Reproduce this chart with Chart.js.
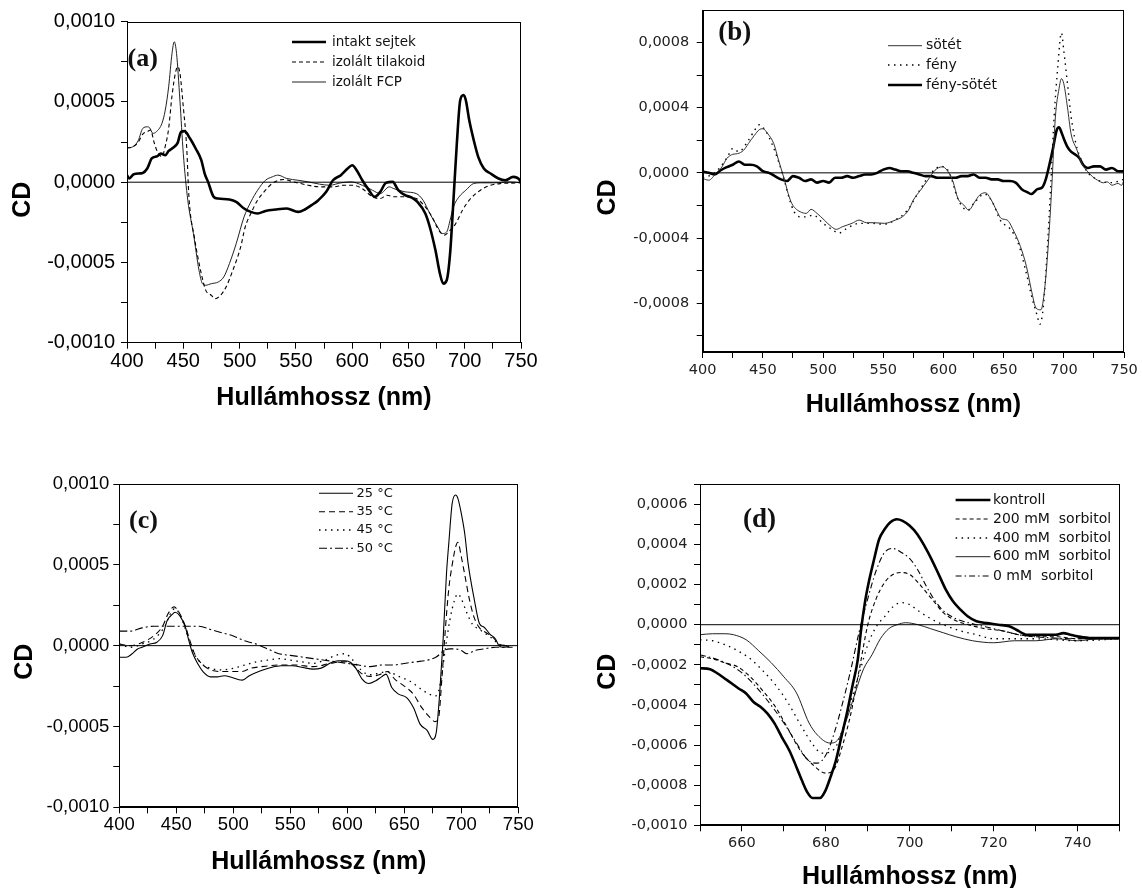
<!DOCTYPE html>
<html><head><meta charset="utf-8">
<script src="https://cdn.jsdelivr.net/npm/chart.js@4.4.1/dist/chart.umd.min.js"></script>
<style>
html,body{margin:0;padding:0;background:#fff;overflow:hidden;width:1142px;height:888px;position:relative}
canvas{position:absolute}
</style></head><body>
<canvas id="ca" width="560" height="425" style="left:0px;top:0px;width:560px;height:425px"></canvas>
<canvas id="cb" width="562" height="425" style="left:580px;top:0px;width:562px;height:425px"></canvas>
<canvas id="cc" width="560" height="448" style="left:0px;top:440px;width:560px;height:448px"></canvas>
<canvas id="cd" width="562" height="448" style="left:580px;top:440px;width:562px;height:448px"></canvas>
<script>
// ---------- axis ticks ----------
const wideXTicks = [400,425,450,475,500,525,550,575,600,625,650,675,700,725,750];
const wideXLabels = [400,450,500,550,600,650,700,750];
const aYTicks = [-0.001,-0.00075,-0.0005,-0.00025,0,0.00025,0.0005,0.00075,0.001];
const aYLabels = [-0.001,-0.0005,0,0.0005,0.001];
const bYTicks = [-0.001,-0.0008,-0.0006,-0.0004,-0.0002,0,0.0002,0.0004,0.0006,0.0008];
const bYLabels = [-0.0008,-0.0004,0,0.0004,0.0008];
const dXTicks = [650,660,670,680,690,700,710,720,730,740,750];
const dXLabels = [660,680,700,720,740];
const dYTicks = [-0.001,-0.0009,-0.0008,-0.0007,-0.0006,-0.0005,-0.0004,-0.0003,-0.0002,-0.0001,0,0.0001,0.0002,0.0003,0.0004,0.0005,0.0006,0.0007];
const dYLabels = [-0.001,-0.0008,-0.0006,-0.0004,-0.0002,0,0.0002,0.0004,0.0006];

// ---------- panel (a) ----------
const aSeries = ['intakt sejtek','izolált tilakoid','izolált FCP'];
const aIntaktX = [400,402,406,414,418,422,427,430,434,437,440,445,448,451,456,461,466,469,472,477,481,491,497,504,510,516,523,532,542,552,558,564,570,577,583,590,596,600,604,609,614,620,625,630,636,641,647,653,658,665,669,674,678,681,684,687,690,693,696,699,701,704,708,712,717,723,730,736,743,749,750];
const aIntaktY = [0.000044,0.000023,0.00005,0.000058,0.000085,0.000148,0.000162,0.000179,0.000168,0.000195,0.00021,0.000245,0.000314,0.000318,0.000272,0.00021,0.000137,0.000054,0.000002,-0.000091,-0.000102,-0.000108,-0.000123,-0.000164,-0.000185,-0.000195,-0.000179,-0.00017,-0.000164,-0.000185,-0.00017,-0.000143,-0.000112,-0.00006,0.000012,0.000044,0.000085,0.000106,0.000075,0.000012,-0.00004,-0.000091,-0.00006,-0.000004,0.000002,-0.00005,-0.000081,-0.000096,-0.000123,-0.000195,-0.000279,-0.000424,-0.00057,-0.000632,-0.000611,-0.000445,-0.000112,0.000241,0.000511,0.000543,0.000511,0.000387,0.000262,0.000158,0.000085,0.000054,0.000023,0.000012,0.000033,0.000012,-0.000008];
const aTilX = [400,405,410,414,418,421,424,427,431,434,437,440,443,445,447,450,453,455,460,466,470,475,478,483,488,494,501,505,510,516,523,529,539,548,561,571,583,593,601,609,618,625,631,637,647,657,665,671,677,682,687,692,698,704,714,723,733,746,750];
const aTilY = [0.000214,0.00022,0.00025,0.0003,0.000315,0.000325,0.00025,0.00019,0.00016,0.000225,0.000335,0.00054,0.00068,0.00072,0.00068,0.00047,0.00022,-0.00009,-0.00035,-0.00057,-0.000674,-0.000705,-0.000726,-0.000705,-0.000653,-0.000549,-0.000403,-0.000279,-0.000195,-0.000112,-0.00005,-0.000008,0.000017,0.000002,-0.000019,-0.000029,-0.000029,-0.000019,-0.000019,-0.00004,-0.000091,-0.000102,-0.000081,-0.000091,-0.000091,-0.000102,-0.000154,-0.000216,-0.0003,-0.00033,-0.0003,-0.000258,-0.000175,-0.000112,-0.00005,-0.000019,-0.000008,-0.000004,0];
const aFcpX = [400,405,410,414,418,420,423,426,431,434,437,440,442,444,447,450,454,459,464,467,470,475,481,486,491,497,504,510,516,523,529,534,542,552,561,571,580,590,599,609,618,625,633,637,647,657,663,669,676,680,684,687,690,695,701,708,714,727,739,750];
const aFcpY = [0.000214,0.00022,0.00026,0.000335,0.000345,0.00034,0.000304,0.000314,0.000366,0.000449,0.000594,0.000803,0.000875,0.000803,0.000511,0.000179,-0.000112,-0.00032,-0.00055,-0.000632,-0.000642,-0.000632,-0.000622,-0.00059,-0.000507,-0.000383,-0.000216,-0.000123,-0.00005,0.000012,0.000033,0.000044,0.000023,0.000012,0.000002,-0.000012,-0.000019,-0.000004,0.000002,-0.000019,-0.00005,-0.000071,-0.000029,-0.00004,-0.00006,-0.000071,-0.000112,-0.000195,-0.000279,-0.00032,-0.00031,-0.000237,-0.000154,-0.000091,-0.00005,-0.000008,-0.000004,-0.000004,0.000002,-0.000004];

// ---------- panel (b) ----------
const bSeries = ['sötét','fény','fény-sötét'];
const bSotetX = [400,405,411,416,420,425,429,434,438,443,447,450,454,459,463,468,471,474,477,481,486,490,495,501,507,511,516,524,530,536,542,551,560,566,571,575,581,587,593,599,603,608,612,617,621,626,630,635,639,644,648,653,658,664,669,673,677,681,684,687,690,693,696,698,700,703,706,711,715,720,724,728,733,736,740,745,748,750];
const bSotetY = [-0.000035,-0.000045,-0.000004,0.000037,0.000088,0.000114,0.000118,0.000139,0.00018,0.000231,0.000265,0.000271,0.000241,0.00018,0.000078,-0.000045,-0.000127,-0.000188,-0.000218,-0.000239,-0.000249,-0.000224,-0.000249,-0.00029,-0.000331,-0.000347,-0.000331,-0.00031,-0.00029,-0.000306,-0.000306,-0.00031,-0.00029,-0.000269,-0.000229,-0.000167,-0.000106,-0.000045,0.000016,0.000037,0.000016,-0.000055,-0.000157,-0.000198,-0.000229,-0.000178,-0.000137,-0.000122,-0.000157,-0.000229,-0.00028,-0.00029,-0.000351,-0.000453,-0.000576,-0.000718,-0.000831,-0.000841,-0.000718,-0.000453,-0.000086,0.000343,0.000516,0.000578,0.000547,0.000404,0.000241,0.000139,0.000057,0.000006,-0.000024,-0.000045,-0.000061,-0.000055,-0.000076,-0.000065,-0.000076,-0.000045];
const bFenyX = [400,410,420,425,430,438,443,447,452,458,463,468,472,476,481,485,492,500,508,513,520,530,540,550,560,570,580,590,598,605,612,620,626,634,640,648,655,662,668,673,678,680,683,686,689,692,695,698,700,703,706,710,715,720,725,730,740,750];
const bFenyY = [-0.00003,0.0,0.00009,0.00015,0.00013,0.0002,0.00026,0.000295,0.00026,0.00017,0.00007,-0.00005,-0.00016,-0.00024,-0.00027,-0.00027,-0.00026,-0.00031,-0.00035,-0.00037,-0.00034,-0.00031,-0.00031,-0.000315,-0.00029,-0.00023,-0.00011,0.0,0.00004,0.0,-0.00016,-0.00023,-0.00018,-0.00013,-0.00017,-0.0003,-0.00034,-0.00043,-0.00059,-0.00075,-0.00088,-0.00093,-0.00082,-0.0005,-0.0001,0.00035,0.00065,0.00086,0.00075,0.00055,0.00035,0.00018,0.00007,0.0,-0.00003,-0.00005,-0.00006,-0.00004];
const bDiffX = [400,405,410,415,420,425,430,435,440,445,450,455,460,465,470,475,480,485,490,495,500,505,510,515,520,525,530,535,540,545,550,555,560,565,570,575,580,585,590,595,600,605,610,615,620,625,630,635,640,645,650,655,660,665,670,673,678,682,685,688,691,694,696,698,700,703,706,710,713,716,720,725,730,735,740,745,750];
const bDiffY = [0.000008,0.0,-0.00001,0.000016,0.000035,0.00005,0.00007,0.00005,0.00005,0.00004,0.00001,0.0,-0.00002,-0.00004,-0.00005,-0.00002,-0.00003,-0.00005,-0.00004,-0.00006,-0.00005,-0.00006,-0.00003,-0.00003,-0.00002,-0.00003,-0.00002,-0.00001,-0.00001,0.0,0.00002,0.00003,0.00002,0.00001,0.00001,0.0,-0.00001,-0.00002,-0.00002,-0.00003,-0.00003,-0.00003,-0.00003,-0.00002,-0.00002,-0.00001,-0.00003,-0.00003,-0.00004,-0.00004,-0.00005,-0.00005,-0.00006,-0.0001,-0.00012,-0.00013,-0.0001,-0.00009,-0.00004,0.00005,0.00015,0.00026,0.00028,0.00025,0.00021,0.00016,0.00013,0.00011,0.00009,0.00005,0.00003,0.00004,0.00004,0.00002,0.00003,0.00001,0.00001];

// ---------- panel (c) ----------
const cSeries = ['25 °C','35 °C','45 °C','50 °C'];
const c25X = [400,406,411,416,420,427,433,438,442,447,449,453,458,461,464,469,474,480,486,492,499,505,508,514,524,533,542,552,561,570,577,586,592,598,603,608,613,619,625,630,634,639,645,652,658,664,670,675,678,681,684,687,689,692,695,697,700,703,706,711,716,720,725,730,733,736,742];
const c25Y = [-0.000072,-0.000072,-0.000052,-0.000021,-0.00001,0.00001,0.000021,0.000062,0.000155,0.000197,0.000207,0.000186,0.000114,0.000031,-0.000041,-0.000114,-0.000166,-0.000193,-0.000193,-0.000186,-0.000197,-0.000211,-0.000213,-0.000186,-0.000155,-0.000135,-0.000124,-0.000124,-0.000135,-0.000145,-0.000139,-0.000104,-0.000093,-0.000093,-0.000104,-0.000145,-0.000207,-0.000234,-0.000217,-0.000193,-0.000176,-0.000259,-0.0003,-0.000321,-0.000383,-0.000487,-0.000524,-0.00058,-0.000538,-0.0003,0.000031,0.000445,0.000631,0.00088,0.000932,0.000911,0.000818,0.000694,0.000507,0.0003,0.000135,0.000114,0.000072,0.000041,0.0,-0.00001,-0.000006];
const c35X = [400,410,420,430,438,443,448,452,458,462,466,472,480,490,500,508,515,525,540,555,570,585,595,600,605,612,620,628,635,642,650,658,665,672,677,680,683,686,689,692,695,697,700,703,707,711,716,722,728,733,740];
const c35Y = [0.00001,0.0,0.00002,0.00006,0.00012,0.0002,0.00024,0.00021,0.00012,0.00003,-0.00005,-0.00011,-0.00015,-0.00016,-0.00016,-0.00016,-0.00014,-0.00013,-0.00012,-0.00012,-0.00013,-0.00011,-0.0001,-0.0001,-0.00012,-0.00017,-0.00019,-0.00018,-0.00016,-0.00021,-0.00025,-0.0003,-0.00038,-0.00044,-0.00047,-0.00045,-0.0002,0.0001,0.00035,0.0005,0.00061,0.00064,0.00055,0.00044,0.00029,0.00018,0.00011,0.00008,0.00005,0.00001,0.0];
const c45X = [400,410,420,430,440,445,449,455,460,465,472,480,490,500,510,520,530,540,550,560,570,580,590,598,605,612,620,628,635,645,655,665,672,678,682,686,690,694,697,700,705,710,716,722,728,735,742];
const c45Y = [0.00001,-0.00001,0.00001,0.00004,0.00012,0.0002,0.00023,0.00016,0.00006,-0.00004,-0.00011,-0.00014,-0.00015,-0.00014,-0.00012,-0.0001,-0.00009,-0.00008,-0.00009,-0.0001,-0.00011,-0.00009,-0.00006,-0.00005,-0.00009,-0.00015,-0.00018,-0.00017,-0.00016,-0.00019,-0.00022,-0.00027,-0.0003,-0.00031,-0.00022,-0.00002,0.00016,0.00028,0.00032,0.00029,0.0002,0.00013,0.0001,0.00007,0.00004,0.0,0.0];
const c50X = [400,410,420,430,440,450,460,470,480,490,500,510,520,530,540,550,560,570,580,590,600,610,620,630,640,650,660,670,678,685,690,695,700,705,712,720,730,740,745];
const c50Y = [0.00009,0.00009,0.00011,0.00012,0.00012,0.00012,0.00012,0.00012,0.0001,0.00008,0.00006,0.00003,0.00001,-0.00002,-0.00005,-0.00006,-0.00007,-0.00008,-0.00009,-0.0001,-0.00011,-0.00012,-0.00013,-0.00012,-0.00012,-0.00011,-0.0001,-0.00009,-0.00007,-0.00003,-0.00002,-0.00002,-0.00003,-0.00005,-0.00003,-0.00002,-0.00001,-0.00001,-0.00001];

// ---------- panel (d) ----------
const dSeries = ['kontroll','200 mM  sorbitol','400 mM  sorbitol','600 mM  sorbitol','0 mM  sorbitol'];
const dKonX = [650,652.4,654.1,655.8,657.5,659.2,661,662.7,664.4,666.1,667.8,669.5,671.3,673,674.3,675.6,676.8,678.6,679.9,681.1,682.4,683.7,685,686.3,687.6,688.4,689.3,690.2,691.5,692.7,694,695.3,696.9,698.3,700,701.8,703.5,705.2,706.9,708.6,710.3,712.1,713.8,715.9,718.5,721.1,723.7,725.4,728,731.4,734.8,736.6,738.3,740,743.4,746.9,750];
const dKonY = [-0.000217,-0.000222,-0.000242,-0.000267,-0.000292,-0.000318,-0.000343,-0.000384,-0.000409,-0.000443,-0.000493,-0.00056,-0.000627,-0.00071,-0.000777,-0.000836,-0.000864,-0.000864,-0.000827,-0.00076,-0.000677,-0.00056,-0.000443,-0.000309,-0.000175,-0.000025,0.000109,0.000209,0.000326,0.000426,0.000476,0.00051,0.000526,0.000518,0.000493,0.000451,0.000393,0.000326,0.000251,0.000175,0.000117,0.000075,0.000042,0.000017,0.000008,0,-0.000008,-0.000025,-0.00005,-0.00005,-0.00005,-0.000042,-0.00005,-0.000058,-0.000067,-0.000067,-0.000067];
const d200X = [650,653,656,659,662,665,668,671,674,677,680,682,684,686,688,690,692,694,696,698,700,702,704,706,708,711,714,718,722,726,730,735,740,745,750];
const d200Y = [-0.00016,-0.00017,-0.00019,-0.00021,-0.00026,-0.00033,-0.00041,-0.00052,-0.00063,-0.0007,-0.00074,-0.00072,-0.0006,-0.00044,-0.00022,0.0,0.00013,0.00021,0.00025,0.00026,0.00025,0.00021,0.00016,0.00011,0.00006,0.00002,0.0,-0.00002,-0.00003,-0.00005,-0.00006,-0.00006,-0.00007,-0.00007,-0.00007];
const d400X = [650,653,656,659,662,665,668,671,674,677,679,682,684,686,688,690,692,694,696,698,700,702,705,708,712,716,720,725,730,740,750];
const d400Y = [-0.000075,-0.00008,-0.0001,-0.00013,-0.00017,-0.00023,-0.0003,-0.00039,-0.0005,-0.0006,-0.00064,-0.00062,-0.00052,-0.00038,-0.00024,-0.0001,-0.00001,0.00004,0.00009,0.00011,0.0001,0.00007,0.00003,0.0,-0.00003,-0.00005,-0.00007,-0.00007,-0.00007,-0.00008,-0.00007];
const d600X = [650,653,656,658,661,664,667,670,673,676,678,681,683,685,687,689,691,693,695,697,699,702,705,708,711,715,720,725,730,735,740,745,750];
const d600Y = [-0.00005,-0.000045,-0.000045,-0.00005,-0.000075,-0.00013,-0.00019,-0.00026,-0.00034,-0.00049,-0.00055,-0.00059,-0.00057,-0.00047,-0.00034,-0.00022,-0.00015,-0.00007,-0.00002,0.0,0.00001,0.0,-0.00002,-0.00004,-0.00006,-0.00008,-0.00009,-0.00008,-0.00008,-0.00007,-0.00008,-0.00007,-0.00007];
const d0X = [650,655,660,665,670,673,676,678,680,682,684,686,688,690,692,694,696,698,700,702,704,706,708,711,714,718,722,726,730,740,750];
const d0Y = [-0.00015,-0.00018,-0.00024,-0.00035,-0.00049,-0.00059,-0.00068,-0.00069,-0.00065,-0.00054,-0.00039,-0.00022,-0.00003,0.00013,0.00027,0.00036,0.00038,0.00036,0.00033,0.00027,0.00019,0.00012,0.00007,0.00003,0.00001,-0.00001,-0.00003,-0.00005,-0.00006,-0.00007,-0.00007];

// ---------- helpers ----------
const pts = (xs, ys) => xs.map((x, i) => ({x: x, y: ys[i]}));
const has = (arr, v) => arr.some(a => Math.abs(a - v) < 1e-9);
const fmtCD = v => (v < -1e-12 ? '-' : '') + Math.abs(v).toFixed(4).replace('.', ',');
const SANS = '"Liberation Sans", Arial, sans-serif';
const DJV = '"DejaVu Sans", sans-serif';

function line(label, xs, ys, width, dash, color) {
  return {label: label, data: pts(xs, ys), borderColor: color || '#000', borderWidth: width,
          borderDash: dash || [], pointRadius: 0, fill: false, cubicInterpolationMode: 'monotone'};
}
function zero(x0, x1) {
  return {label: '_zero', data: [{x: x0, y: 0}, {x: x1, y: 0}], borderColor: '#000', borderWidth: 1, pointRadius: 0, fill: false};
}

function panel(id, P) {
  const ox = P.ox, oy = P.oy;
  const deco = {
    id: 'deco',
    afterDraw(chart) {
      const ctx = chart.ctx, a = chart.chartArea;
      ctx.save();
      ctx.strokeStyle = '#000'; ctx.lineWidth = 1; ctx.setLineDash([]);
      ctx.strokeRect(Math.round(a.left) + 0.5, Math.round(a.top) + 0.5, Math.round(a.right - a.left) - 1, Math.round(a.bottom - a.top) - 1);
      // y title
      ctx.save();
      ctx.translate(P.cd[0] - ox, P.cd[1] - oy);
      ctx.rotate(-Math.PI / 2);
      ctx.font = 'bold 25px ' + SANS;
      ctx.fillStyle = '#000'; ctx.textAlign = 'center'; ctx.textBaseline = 'middle';
      ctx.fillText('CD', 0, 0);
      ctx.restore();
      // panel tag
      ctx.font = 'bold ' + P.tag.size + 'px "Liberation Serif", "Times New Roman", serif';
      ctx.fillStyle = '#111'; ctx.textAlign = 'left'; ctx.textBaseline = 'middle';
      ctx.fillText(P.tag.text, P.tag.x - ox, P.tag.y - oy);
      // legend from datasets
      const L = P.legend;
      const ds = chart.data.datasets.filter(d => d.label !== '_zero');
      ctx.font = L.font; ctx.fillStyle = '#111';
      ds.forEach((d, i) => {
        const y = L.ys[i] - oy;
        ctx.beginPath();
        ctx.setLineDash(d.borderDash || []);
        ctx.lineWidth = d.borderWidth; ctx.strokeStyle = d.borderColor;
        ctx.moveTo(L.x1 - ox, y); ctx.lineTo(L.x2 - ox, y); ctx.stroke();
        ctx.setLineDash([]);
        ctx.fillText(d.label, L.tx - ox, y);
      });
      ctx.restore();
    }
  };
  const W = P.W, H = P.H;
  return new Chart(document.getElementById(id), {
    type: 'line',
    data: {datasets: P.datasets},
    plugins: [deco],
    options: {
      responsive: false, animation: false, devicePixelRatio: 1,
      layout: {padding: {top: P.plot.t, right: W - P.plot.r, left: 0, bottom: 0}},
      plugins: {legend: {display: false}, tooltip: {enabled: false}},
      scales: {
        x: {
          type: 'linear', position: 'bottom', min: P.xMin, max: P.xMax,
          afterBuildTicks: s => { s.ticks = P.xTicks.map(v => ({value: v})); },
          afterFit: s => { s.height = H - P.plot.b; s.paddingLeft = 0; s.paddingRight = 0; },
          grid: {display: true, drawOnChartArea: false, drawTicks: true, tickLength: 6, color: '#000', tickColor: '#000', tickWidth: 1},
          border: {display: true, color: '#000', width: 1},
          ticks: {autoSkip: false, maxRotation: 0, minRotation: 0, padding: P.xPad, color: P.tickColor,
                  font: {family: P.tickFamily, size: P.tickSize},
                  callback: v => has(P.xLabels, v) ? String(v) : ''},
          title: {display: true, text: 'Hullámhossz (nm)', color: '#000',
                  font: {family: SANS, size: 25, weight: 'bold', lineHeight: 1.2},
                  padding: {top: 0, bottom: P.titlePad}}
        },
        y: {
          type: 'linear', position: 'left', min: P.yMin, max: P.yMax,
          afterBuildTicks: s => { s.ticks = P.yTicks.map(v => ({value: v})); },
          afterFit: s => { s.width = P.plot.l; s.paddingTop = 0; s.paddingBottom = 0; },
          grid: {display: true, drawOnChartArea: false, drawTicks: true, tickLength: 6, color: '#000', tickColor: '#000', tickWidth: 1},
          border: {display: true, color: '#000', width: 1},
          ticks: {autoSkip: false, padding: P.yPad, color: P.tickColor,
                  font: {family: P.tickFamily, size: P.tickSize},
                  callback: v => has(P.yLabels, v) ? fmtCD(v) : ''},
          title: {display: false}
        }
      }
    }
  });
}

// (a)
panel('ca', {
  ox: 0, oy: 0, W: 560, H: 425,
  plot: {l: 127, r: 521, t: 21.7, b: 342.7},
  xMin: 400, xMax: 750, yMin: -0.001, yMax: 0.001,
  xTicks: wideXTicks, xLabels: wideXLabels, yTicks: aYTicks, yLabels: aYLabels,
  tickFamily: SANS, tickSize: 20, tickColor: '#000', xPad: 1, yPad: 6, titlePad: 12,
  cd: [23.3, 199.7], tag: {text: '(a)', x: 127.5, y: 59, size: 26},
  legend: {x1: 292, x2: 326, tx: 332, ys: [42, 62, 82], font: '13.5px ' + DJV},
  datasets: [
    zero(400, 750),
    line(aSeries[0], aIntaktX, aIntaktY, 2.6, []),
    line(aSeries[1], aTilX, aTilY, 1.1, [4, 3]),
    line(aSeries[2], aFcpX, aFcpY, 1, [], '#222')
  ]
});

// (b)
panel('cb', {
  ox: 580, oy: 0, W: 562, H: 425,
  plot: {l: 122.7, r: 544, t: 10, b: 352},
  xMin: 400, xMax: 750, yMin: -0.0011, yMax: 0.001,
  xTicks: wideXTicks, xLabels: wideXLabels, yTicks: bYTicks, yLabels: bYLabels,
  tickFamily: DJV, tickSize: 14.5, tickColor: '#222', xPad: 3.3, yPad: 7.4, titlePad: 5,
  cd: [607.8, 197.5], tag: {text: '(b)', x: 718.3, y: 33, size: 27},
  legend: {x1: 888, x2: 922, tx: 926, ys: [45.7, 65, 85], font: '14px ' + DJV},
  datasets: [
    zero(400, 750),
    line(bSeries[0], bSotetX, bSotetY, 1, [], '#333'),
    line(bSeries[1], bFenyX, bFenyY, 1.4, [1.5, 4.5]),
    line(bSeries[2], bDiffX, bDiffY, 2.6, [])
  ]
});

// (c)
panel('cc', {
  ox: 0, oy: 440, W: 560, H: 448,
  plot: {l: 119.3, r: 518.3, t: 44, b: 367.3},
  xMin: 400, xMax: 750, yMin: -0.001, yMax: 0.001,
  xTicks: wideXTicks, xLabels: wideXLabels, yTicks: aYTicks, yLabels: aYLabels,
  tickFamily: SANS, tickSize: 18.5, tickColor: '#000', xPad: 0.6, yPad: 4, titlePad: 11.3,
  cd: [25, 661.7], tag: {text: '(c)', x: 129, y: 521, size: 26},
  legend: {x1: 319, x2: 353, tx: 356.6, ys: [493.3, 511.7, 530, 548.3], font: '13px ' + DJV},
  datasets: [
    zero(400, 750),
    line(cSeries[0], c25X, c25Y, 1.1, []),
    line(cSeries[1], c35X, c35Y, 1.1, [6, 4]),
    line(cSeries[2], c45X, c45Y, 1.3, [1.5, 4.5]),
    line(cSeries[3], c50X, c50Y, 1.1, [8, 3, 2, 3])
  ]
});

// (d)
panel('cd', {
  ox: 580, oy: 440, W: 562, H: 448,
  plot: {l: 120, r: 539.5, t: 44.3, b: 385.3},
  xMin: 650, xMax: 750, yMin: -0.001, yMax: 0.0007,
  xTicks: dXTicks, xLabels: dXLabels, yTicks: dYTicks, yLabels: dYLabels,
  tickFamily: DJV, tickSize: 14.5, tickColor: '#222', xPad: 3.3, yPad: 6.5, titlePad: -3.7,
  cd: [607.8, 671.7], tag: {text: '(d)', x: 743, y: 520, size: 27},
  legend: {x1: 955.6, x2: 990.4, tx: 993, ys: [500, 519, 538, 556.7, 576], font: '14px ' + DJV},
  datasets: [
    zero(650, 750),
    line(dSeries[0], dKonX, dKonY, 2.6, []),
    line(dSeries[1], d200X, d200Y, 1.1, [4, 3]),
    line(dSeries[2], d400X, d400Y, 1.3, [1.5, 4.5]),
    line(dSeries[3], d600X, d600Y, 1, [], '#222'),
    line(dSeries[4], d0X, d0Y, 1.1, [6, 3, 1.5, 3])
  ]
});
</script>
</body></html>
